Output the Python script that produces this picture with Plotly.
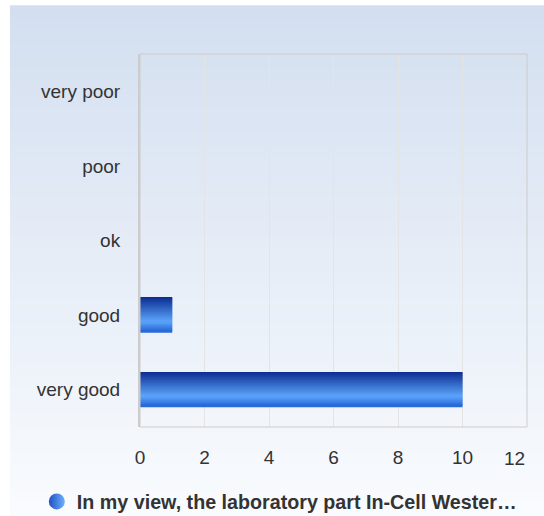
import plotly.graph_objects as go

# data
categories = ["very poor", "poor", "ok", "good", "very good"]
counts = [0, 0, 0, 1, 10]
series_name = "In my view, the laboratory part In-Cell Wester…"
x_ticks = [0, 2, 4, 6, 8, 10, 12]
x_tick_labels = ["0", "2", "4", "6", "8", "10", "12"]

W, H = 544, 516
ML, MR, MT, MB = 140, 17, 54, 89
PW, PH = W - ML - MR, H - MT - MB
FONT = "Liberation Sans, Arial, sans-serif"


def mix(c1, c2, t):
    return tuple(round(a + (b - a) * t) for a, b in zip(c1, c2))


def bar_color(t):
    # vertical bar gradient: dark navy at the top, light near 3/4, darker at the bottom
    stops = [(0.0, (8, 40, 140)), (0.72, (92, 165, 252)), (1.0, (36, 100, 212))]
    for (t0, c0), (t1, c1) in zip(stops, stops[1:]):
        if t <= t1:
            return "rgb(%d,%d,%d)" % mix(c0, c1, (t - t0) / (t1 - t0))
    return "rgb(%d,%d,%d)" % stops[-1][1]


fig = go.Figure()

# bars drawn as thin overlaid slices to fake the gradient fill
n_slices = 18
bar_width = 0.47
slice_w = bar_width / n_slices
ext = slice_w * 0.6
for i in range(n_slices):
    e = ext if i > 0 else 0
    fig.add_trace(go.Bar(
        x=counts,
        y=categories,
        orientation="h",
        width=slice_w + e,
        offset=-bar_width / 2 + i * slice_w - e,
        marker=dict(color=bar_color((i + 0.5) / n_slices), line_width=0),
        showlegend=False,
        hoverinfo="skip",
    ))

# legend entry with a sphere-like marker
fig.add_trace(go.Scatter(
    x=[None], y=[None],
    mode="markers",
    name=series_name,
    marker=dict(symbol="circle", size=17, color="rgb(30,80,200)",
                gradient=dict(type="horizontal", color="rgb(110,175,250)")),
))

# background gradient of the chart panel, as thin bands
x0 = (10 - ML) / PW
x1 = (W - ML) / PW
y_top = 1 + (MT - 6) / PH
y_bot = -MB / PH
n_bands = 40
top_c, bot_c = (211, 223, 240), (249, 251, 254)
shapes = []
for i in range(n_bands):
    ya = y_top - (y_top - y_bot) * i / n_bands
    yb = y_top - (y_top - y_bot) * (i + 1) / n_bands
    shapes.append(dict(
        type="rect", xref="paper", yref="paper",
        x0=x0, x1=x1, y0=yb, y1=ya + 0.002,
        fillcolor="rgb(%d,%d,%d)" % mix(top_c, bot_c, i / (n_bands - 1)),
        line_width=0, layer="below",
    ))
# plot border
shapes.append(dict(type="rect", xref="paper", yref="paper", x0=0, x1=1, y0=0, y1=1,
                   line=dict(color="#cccccc", width=1), layer="above"))

# last tick label is pulled inside the chart (right-aligned) like in the original
tick_text = x_tick_labels[:-1] + [""]
annotations = [dict(
    x=x_ticks[-1], xref="x", y=-31 / PH, yref="paper",
    text=x_tick_labels[-1], showarrow=False, xanchor="right", yanchor="middle",
    font=dict(size=19, color="#333333", family=FONT),
)]

fig.update_layout(
    width=W, height=H,
    margin=dict(l=ML, r=MR, t=MT, b=MB, autoexpand=False),
    paper_bgcolor="white",
    plot_bgcolor="rgba(0,0,0,0)",
    barmode="overlay",
    shapes=shapes,
    annotations=annotations,
    font=dict(family=FONT, size=19, color="#333333"),
    xaxis=dict(
        range=[0, 12], tickvals=x_ticks, ticktext=tick_text,
        showgrid=True, gridcolor="#e4e4e4",
        gridwidth=1, zeroline=False, showline=False, ticks="",
        tickfont=dict(size=19, color="#333333"), ticklabelstandoff=17,
        fixedrange=True, automargin=False,
    ),
    yaxis=dict(
        categoryorder="array", categoryarray=categories, autorange="reversed",
        showgrid=False, zeroline=False, showline=True, linecolor="#cccccc",
        linewidth=2, ticks="", ticklabelstandoff=14, automargin=False,
        tickfont=dict(size=19, color="#333333"),
    ),
    showlegend=True,
    legend=dict(
        orientation="h", x=0.36, xanchor="center", y=-0.2, yanchor="middle",
        bgcolor="rgba(0,0,0,0)",
        font=dict(size=19.7, color="#333333", family=FONT, weight="bold"),
        itemsizing="trace",
    ),
)

fig.write_html(
    "out.html",
    config={"displayModeBar": False},
    post_script=(
        "document.body.style.margin='0';"
        "document.body.style.overflow='hidden';"
        "document.documentElement.style.overflow='hidden';"
    ),
)
